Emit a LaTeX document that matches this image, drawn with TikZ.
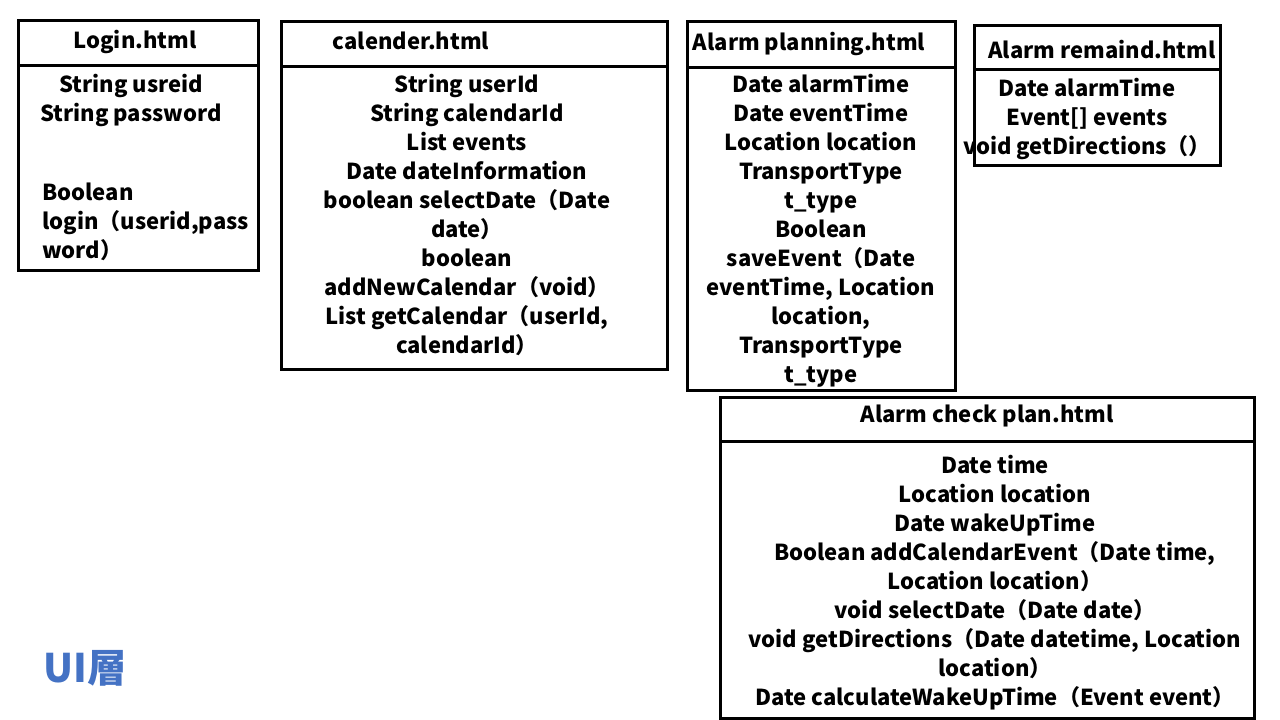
\documentclass[tikz,border=0pt]{standalone}
\usepackage{fontspec}
\setmainfont{Noto Sans CJK JP}
\usetikzlibrary{positioning}
\definecolor{uiblue}{RGB}{68,114,196}
\newcommand{\boxfont}{\fontsize{16.5}{21.75}\selectfont\bfseries}
\tikzset{
  pageframe/.style = {draw=black, line width=2.25pt},
  pagetitle/.style = {font=\boxfont, inner sep=0pt},
  members/.style   = {font=\boxfont, align=center, inner sep=0pt, anchor=north},
  layername/.style = {font=\fontsize{29.5}{34}\selectfont\bfseries, text=uiblue, inner sep=0pt},
}

\begin{document}
\begin{tikzpicture}[x=0.75pt, y=-0.75pt]
\useasboundingbox (0,0) rectangle (1280,720);

% ---- Login.html ----
\draw[pageframe] (18,21) rectangle (258,270);
\draw[pageframe] (18,66) -- (258,66);
\node[pagetitle] (logintitle) at (135,42) {Login.html};
\node[members] (loginattr) at (131,72) {\strut String usreid\\String password};
\node[members, align=left, anchor=north west] (loginop) at (42,180)
  {\strut Boolean\\login（userid,pass\\word）};

% ---- calender.html ----
\draw[pageframe] (281,22) rectangle (667,369);
\draw[pageframe] (281,67) -- (667,67);
\node[pagetitle] (caltitle) at (411,41) {calender.html};
\node[members] (calbody) at (467,72)
  {\strut String userId\\String calendarId\\List events\\Date dateInformation\\
   boolean selectDate（Date\\date）\\boolean\\addNewCalendar（void）\\
   List getCalendar（userId,\\calendarId）};

% ---- Alarm planning.html ----
\draw[pageframe] (687,22) rectangle (955,390);
\draw[pageframe] (687,68) -- (955,68);
\node[pagetitle] (plantitle) at (809,44) {Alarm planning.html};
\node[members] (planbody) at (821,72)
  {\strut Date alarmTime\\Date eventTime\\Location location\\TransportType\\t\_type\\
   Boolean\\saveEvent（Date\\eventTime, Location\\location,\\TransportType\\t\_type};

% ---- Alarm remaind.html ----
\draw[pageframe] (974,26) rectangle (1220,166);
\draw[pageframe] (974,70) -- (1220,70);
\node[pagetitle] (remtitle) at (1102,50) {Alarm remaind.html};
\node[members] (rembody) at (1087,76)
  {\strut Date alarmTime\\Event[] events\\void getDirections（）};

% ---- Alarm check plan.html ----
\draw[pageframe] (720,397) rectangle (1254,718);
\draw[pageframe] (720,441) -- (1254,441);
\node[pagetitle] (checktitle) at (987,416) {Alarm check plan.html};
\node[members] (checkbody) at (995,453)
  {\strut Date time\\Location location\\Date wakeUpTime\\
   Boolean addCalendarEvent（Date time,\\Location location）\\
   void selectDate（Date date）\\void getDirections（Date datetime, Location\\
   location）\\Date calculateWakeUpTime（Event event）};

% ---- layer name ----
\node[layername, anchor=west] (layer) at (43,668) {UI層};

\end{tikzpicture}
\end{document}
